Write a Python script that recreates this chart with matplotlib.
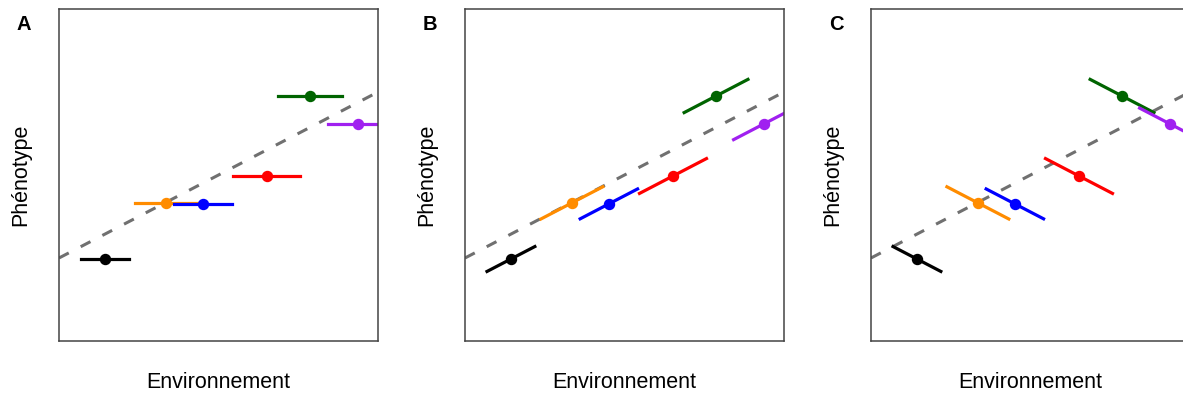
import numpy as np
import matplotlib
matplotlib.use('Agg')
import matplotlib.pyplot as plt

plt.rcParams['font.family'] = ['Liberation Sans', 'DejaVu Sans']

# genotype means (environment, phenotype), axes run 0..10
colors = ['black', '#FF8C00', '#0000FF', '#FF0000', '#006400', '#A020F0']
env = [1.44, 3.35, 4.51, 6.52, 7.87, 9.37]
pheno = [2.47, 4.16, 4.13, 4.97, 7.38, 6.54]
half_range = [0.75, 0.97, 0.9, 1.05, 1.0, 0.95]

# population reaction norm
intercept = 2.5
slope = 0.5

panels = ['A', 'B', 'C']
seg_slopes = [0.0, 0.5, -0.5]

W, H = 1183, 397
fig = plt.figure(figsize=(W / 100, H / 100), dpi=100)

for k, (name, s) in enumerate(zip(panels, seg_slopes)):
    left = 59 + 406 * k
    ax = fig.add_axes([left / W, 56 / H, 319 / W, 332 / H])
    ax.set_xlim(0, 10)
    ax.set_ylim(0, 10)
    ax.set_xticks([])
    ax.set_yticks([])
    for sp in ax.spines.values():
        sp.set_color('#444444')
        sp.set_linewidth(1.1)

    xs = np.array([0, 10])
    ax.plot(xs, intercept + slope * xs, color='#707070', lw=2.2,
            dashes=(3.6, 4.4), zorder=1)

    for c, e, p, h in zip(colors, env, pheno, half_range):
        xx = np.array([e - h, e + h])
        ax.plot(xx, p + s * (xx - e), color=c, lw=2.3, zorder=2)
        ax.plot([e], [p], 'o', color=c, ms=7.2, zorder=3)

    # axis titles placed in figure pixels
    fig.text((left + 159.5) / W, 1 - 383 / H, 'Environnement', fontsize=15.5,
             ha='center', va='center')
    fig.text((left - 38) / W, 1 - 175 / H, 'Phénotype', fontsize=15.5,
             rotation=90, ha='center', va='center')
    fig.text((left - 35) / W, 1 - 24 / H, name, fontsize=14.5, fontweight='bold',
             ha='center', va='center')

fig.savefig('out.png', dpi=100)
